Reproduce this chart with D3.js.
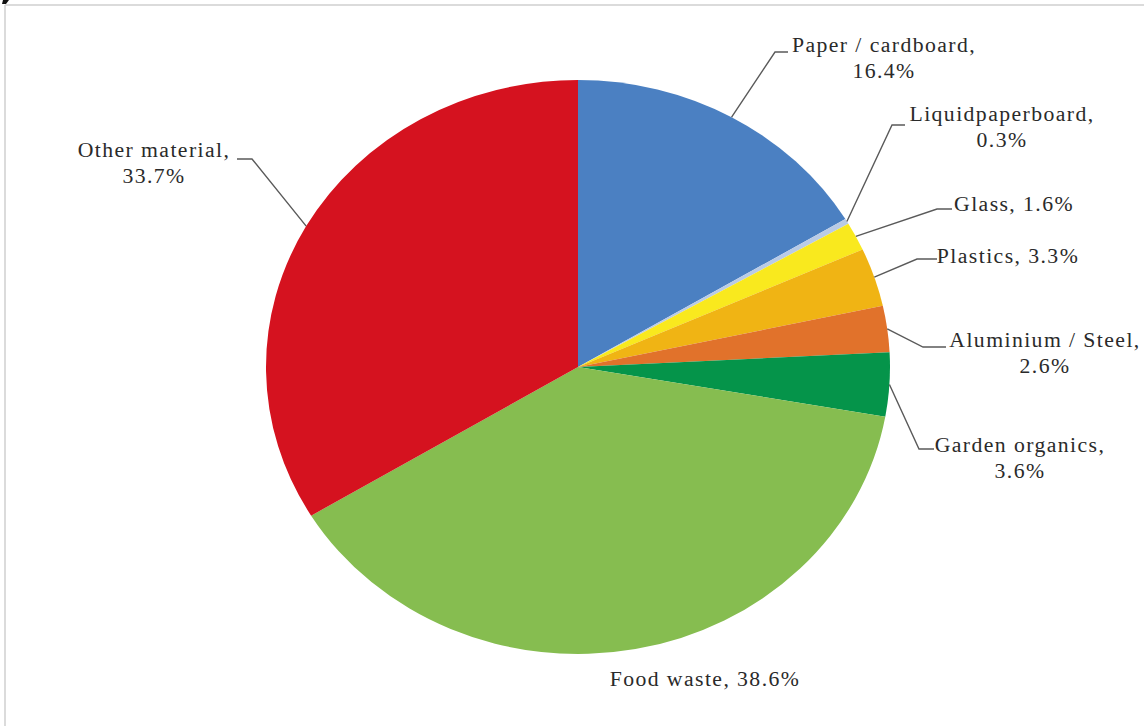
<!DOCTYPE html>
<html>
<head>
<meta charset="utf-8">
<script src="https://cdn.jsdelivr.net/npm/d3@7"></script>
<style>
  html, body { margin: 0; padding: 0; background: #fff; }
  svg { display: block; }
</style>
</head>
<body>
<svg id="chart" width="1144" height="726"></svg>
<script>
// ---- data ----
const categories = ["Paper / cardboard", "Liquidpaperboard", "Glass", "Plastics",
                    "Aluminium / Steel", "Garden organics", "Food waste", "Other material"];
const values = [16.4, 0.3, 1.6, 3.3, 2.6, 3.6, 38.6, 33.7];
const colors = ["#4b80c2", "#b9cbe6", "#f9e91e", "#f0b414", "#e1722b", "#05944a", "#86bd50", "#d5121f"];
// whether label splits into two lines (name + value)
const twoLine = [true, true, false, false, true, true, false, true];

// ---- layout ----
const W = 1144, H = 726;
const cx = 578, cy = 367, ry = 287, rx = 312;
const fontSize = 20, lineH = 26, textStretch = 1.087;

// label layout: centre x, first baseline y, leader elbow & end points (null = no leader)
const labelLayout = [
  { x: 884, y: 52, elbow: [775, 52], end: [788, 52] },
  { x: 1002, y: 121, elbow: [892, 125], end: [905, 125] },
  { x: 1014, y: 211, elbow: [937, 209], end: [952, 209] },
  { x: 1008, y: 263, elbow: [917, 259], end: [937, 259] },
  { x: 1045, y: 347, elbow: [923, 347], end: [946, 347] },
  { x: 1020, y: 452, elbow: [919, 449], end: [934, 449] },
  { x: 705, y: 686, elbow: null, end: null },
  { x: 154, y: 157, elbow: [252, 159], end: [237, 159] }
];

const svg = d3.select("#chart");

// frame
svg.append("line").attr("x1", 5).attr("y1", 5).attr("x2", W).attr("y2", 5)
  .attr("stroke", "#cfcfcf").attr("stroke-width", 1.5);
svg.append("line").attr("x1", 5).attr("y1", 5).attr("x2", 5).attr("y2", H)
  .attr("stroke", "#cfcfcf").attr("stroke-width", 1.5);
// fragment of a glyph from a cut-off heading above the frame
svg.append("path").attr("d", "M3,0 L9,0 L6,4 L2,4 Z").attr("fill", "#111");

const data = categories.map((c, i) => ({ name: c, value: values[i], color: colors[i], i }));
const pie = d3.pie().sort(null).value(d => d.value).startAngle(0).endAngle(2 * Math.PI);
const arcs = pie(data);
const arc = d3.arc().innerRadius(0).outerRadius(ry);

const g = svg.append("g").attr("transform", `translate(${cx},${cy}) scale(${rx / ry},1)`);
g.selectAll("path").data(arcs).join("path")
  .attr("d", arc)
  .attr("fill", d => d.data.color);

// leaders
const sx = d3.scaleLinear().domain([-1, 1]).range([cx - rx, cx + rx]);
const sy = d3.scaleLinear().domain([-1, 1]).range([cy - ry, cy + ry]);
arcs.forEach((a, i) => {
  const L = labelLayout[i];
  if (!L.elbow) return;
  const mid = (a.startAngle + a.endAngle) / 2;
  const p0 = [sx(Math.sin(mid)), sy(-Math.cos(mid))];
  svg.append("polyline")
    .attr("points", [p0, L.elbow, L.end].map(p => p.join(",")).join(" "))
    .attr("fill", "none").attr("stroke", "#5a5a5a").attr("stroke-width", 1.4);
});

// labels
arcs.forEach((a, i) => {
  const L = labelLayout[i];
  const d = a.data;
  const lines = twoLine[i] ? [d.name + ",", d3.format(".1f")(d.value) + "%"]
                           : [d.name + ", " + d3.format(".1f")(d.value) + "%"];
  const t = svg.append("text")
    .attr("transform", `translate(${L.x},${L.y}) scale(${textStretch},1)`)
    .attr("font-family", "Liberation Serif, Times New Roman, serif")
    .attr("font-size", fontSize)
    .attr("letter-spacing", "1.3px")
    .attr("fill", "#2a2a2a")
    .attr("text-anchor", "middle");
  lines.forEach((s, k) => {
    t.append("tspan").attr("x", 0).attr("y", k * lineH).text(s);
  });
});
</script>
</body>
</html>
